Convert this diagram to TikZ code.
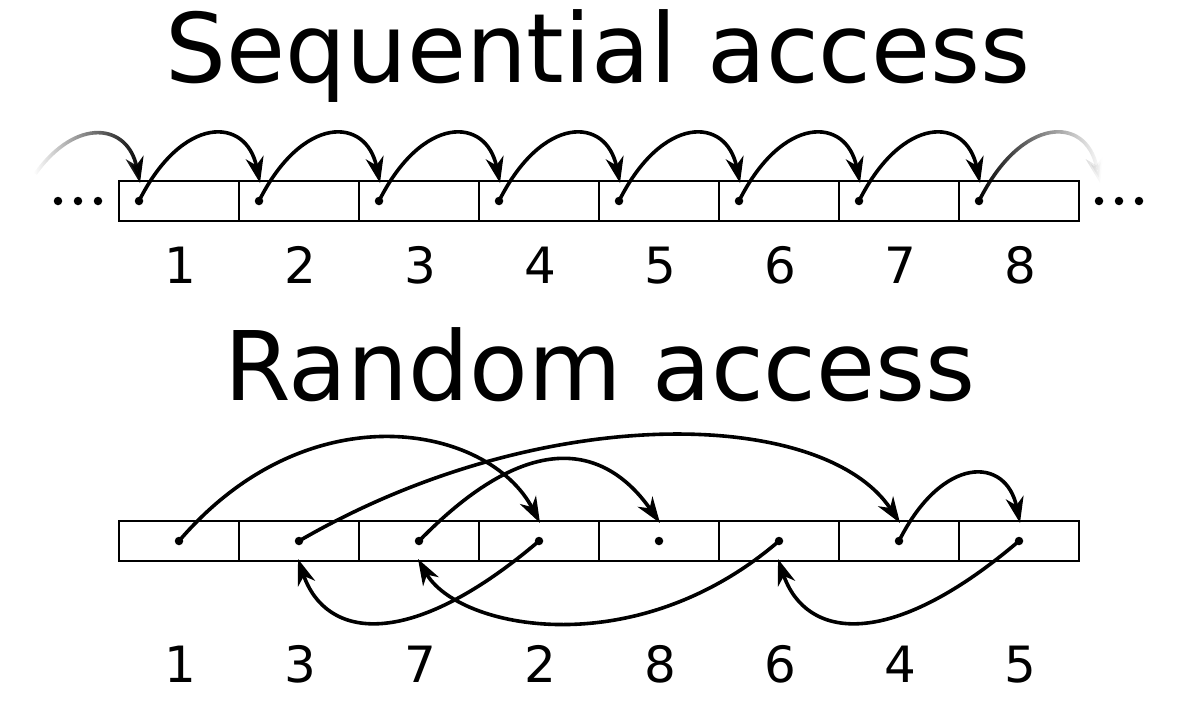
\documentclass[tikz,border=0pt]{standalone}
\usepackage{fontspec}
\setmainfont{DejaVu Sans}
\usetikzlibrary{arrows.meta,fadings,calc}
\tikzfading[name=fadein, left color=transparent!100, right color=transparent!0]
\tikzfading[name=fadeout, left color=transparent!0, right color=transparent!100]
\begin{document}
\begin{tikzpicture}[x=1pt,y=-1pt,
  cell/.style={draw, line width=2.4pt, minimum width=120pt, minimum height=40pt, inner sep=0pt, outer sep=0pt},
  dotn/.style={circle, fill=black, inner sep=0pt, minimum size=8.5pt},
  arc/.style={line width=3.6pt, -{Stealth[length=26pt,width=18pt,inset=8pt]}},
  lbl/.style={anchor=base, inner sep=0pt, font=\fontsize{50}{60}\selectfont},
  ttl/.style={anchor=base, inner sep=0pt, font=\fontsize{96}{110}\selectfont}]
\useasboundingbox (0,0) rectangle (1200,720);

% titles
\node[ttl] (title1) at (598,82) {Sequential access};
\node[ttl] (title2) at (600,400) {Random access};

% sequential row
\foreach \i in {0,...,7} {
  \pgfmathtruncatemacro{\n}{\i+1}
  \node[cell] (c\i) at ({179+120*\i},201) {};
  \node[lbl] (l\i) at ({180+120*\i},283) {\n};
}
\foreach \i in {0,...,7} {
  \node[dotn] (s\i) at ({139+120*\i},201) {};
  \coordinate (t\i) at ({140+120*\i},183);
}
\coordinate (sL) at (35.3,173.8);
\coordinate (tR) at (1100,183);
% ellipsis dots
\foreach \x [count=\k] in {58,78,98} \node[dotn] (el\k) at (\x,201) {};
\foreach \x [count=\k] in {1099,1119,1139} \node[dotn] (er\k) at (\x,201) {};

% sequential arcs
\foreach \i in {0,...,6} {
  \pgfmathtruncatemacro{\j}{\i+1}
  \draw[arc] (s\i.center) .. controls +(43,-86) and +(-14,-67) .. (t\j);
}
\draw[arc, path fading=fadein] (sL) .. controls +(41.3,-57.6) and +(-12.3,-59) .. (t0);
\draw[arc, path fading=fadeout] (s7.center) .. controls +(43,-86) and +(-14,-67) .. (tR);

% random row
\foreach \i/\v in {0/1,1/3,2/7,3/2,4/8,5/6,6/4,7/5} {
  \node[cell] (r\i) at ({179+120*\i},541) {};
  \node[lbl] (m\i) at ({180+120*\i},682) {\v};
}
\foreach \i in {0,...,7} {
  \coordinate (u\i) at ({180+120*\i},523);
  \coordinate (d\i) at ({178+120*\i},559);
}
% random arcs
\draw[arc] (r0.center) .. controls +(130,-152) and +(-51,-98) .. (u3);   % 1 -> 2
\draw[arc] (r3.center) .. controls +(-129,110) and +(28,81) .. (d1);     % 2 -> 3
\draw[arc] (r1.center) .. controls +(241,-140) and +(-77,-116) .. (u6);  % 3 -> 4
\draw[arc] (r6.center) .. controls +(43,-86) and +(-14,-67) .. (u7);     % 4 -> 5
\draw[arc] (r7.center) .. controls +(-129,110) and +(28,81) .. (d5);     % 5 -> 6
\draw[arc] (r5.center) .. controls +(-144,124) and +(40,70) .. (d2);     % 6 -> 7
\draw[arc] (r2.center) .. controls +(119,-122) and +(-49,-70) .. (u4);   % 7 -> 8

\foreach \i in {0,...,7} \node[dotn] (b\i) at ({179+120*\i},541) {};
\end{tikzpicture}
\end{document}
